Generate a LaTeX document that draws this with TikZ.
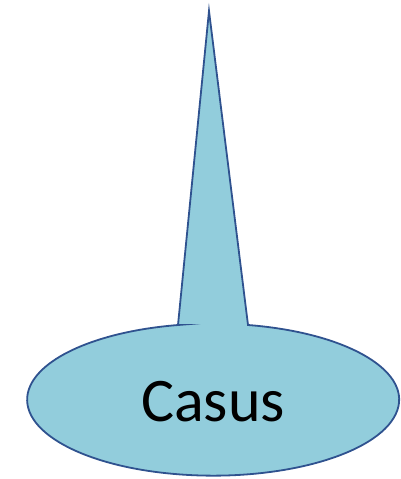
\documentclass[tikz,border=0pt]{standalone}
\usepackage{fontspec}
\setmainfont{Carlito}
\usetikzlibrary{positioning}
\definecolor{calloutfill}{RGB}{146,205,220}
\definecolor{calloutline}{RGB}{47,82,143}

\begin{document}
\begin{tikzpicture}[x=1pt,y=1pt,
  callout/.style={fill=calloutfill,draw=calloutline,line width=1.8pt,line join=miter,miter limit=30}]
  \useasboundingbox (0,0) rectangle (401,479);
  % spike and ellipse as one outline
  \draw[callout] (178,154) -- (209,468) -- (248,154)
    arc[start angle=79.2,end angle=-259.2,x radius=186,y radius=76] -- cycle;
  \node[anchor=base,inner sep=0pt,font=\fontsize{62}{62}\selectfont] (casus) at (213,57) {Casus};
\end{tikzpicture}
\end{document}
